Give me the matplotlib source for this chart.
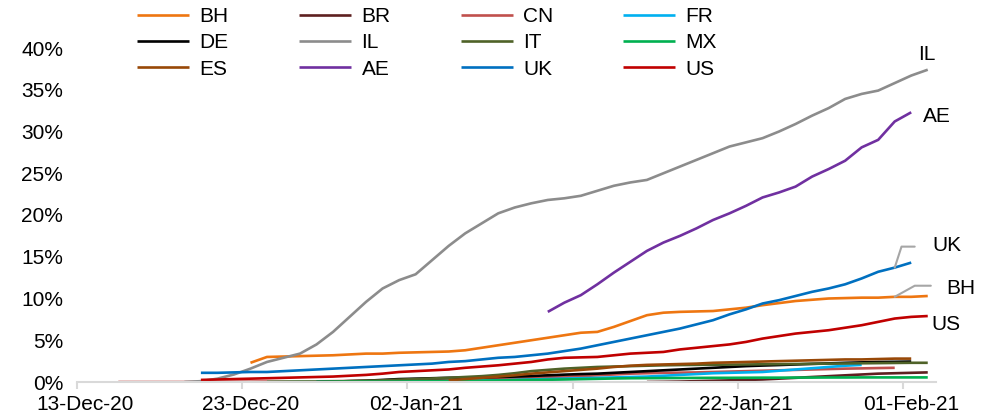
import numpy as np
import pandas as pd
import matplotlib.pyplot as plt
import matplotlib.dates as mdates

plt.rcParams['font.family'] = ['Liberation Sans', 'DejaVu Sans']

# vaccination share of population, daily, from first reported day
bh_start, bh = '2020-12-23', [2.3, 3.0, 3.05, 3.1, 3.15, 3.2, 3.3, 3.4, 3.4, 3.5, 3.55, 3.6, 3.65, 3.8, 4.1,
                              4.4, 4.7, 5.0, 5.3, 5.6, 5.9, 6.0, 6.6, 7.3, 8.0, 8.3, 8.4, 8.45, 8.5, 8.7,
                              8.9, 9.2, 9.45, 9.7, 9.85, 10.0, 10.05, 10.1, 10.1, 10.2, 10.2, 10.3]
br_start, br = '2021-01-16', [0.0, 0.02, 0.05, 0.1, 0.15, 0.2, 0.25, 0.3, 0.4, 0.5, 0.6, 0.7, 0.8, 0.9,
                              1.0, 1.05, 1.1, 1.15]
cn_start, cn = '2020-12-15', [0.0, 0.0, 0.0, 0.0, 0.0, 0.01, 0.02, 0.03, 0.04, 0.05, 0.06, 0.07, 0.08, 0.1,
                              0.12, 0.14, 0.16, 0.18, 0.2, 0.23, 0.27, 0.3, 0.35, 0.4, 0.45, 0.5, 0.55, 0.62,
                              0.7, 0.8, 0.9, 1.0, 1.05, 1.1, 1.12, 1.15, 1.2, 1.25, 1.3, 1.35, 1.4, 1.45,
                              1.5, 1.55, 1.6, 1.63, 1.67, 1.7]
fr_start, fr = '2020-12-27', [0.0, 0.0, 0.01, 0.01, 0.02, 0.03, 0.05, 0.07, 0.1, 0.13, 0.17, 0.2, 0.25, 0.3,
                              0.35, 0.4, 0.45, 0.5, 0.55, 0.6, 0.65, 0.75, 0.85, 0.95, 1.05, 1.1, 1.15, 1.2,
                              1.35, 1.5, 1.65, 1.8, 1.95, 2.05]
de_start, de = '2020-12-27', [0.0, 0.05, 0.1, 0.15, 0.25, 0.35, 0.4, 0.45, 0.5, 0.53, 0.56, 0.6, 0.65, 0.72,
                              0.8, 0.88, 0.95, 1.0, 1.1, 1.2, 1.3, 1.4, 1.5, 1.6, 1.7, 1.8, 1.9, 1.97, 2.03,
                              2.1, 2.17, 2.23, 2.3, 2.35, 2.4, 2.42, 2.45]
il_start, il = '2020-12-19', [0.0, 0.1, 0.4, 0.9, 1.6, 2.4, 2.9, 3.4, 4.5, 6.0, 7.8, 9.6, 11.2, 12.2, 12.9,
                              14.6, 16.3, 17.8, 19.0, 20.2, 20.9, 21.4, 21.8, 22.0, 22.3, 22.9, 23.5, 23.9,
                              24.2, 25.0, 25.8, 26.6, 27.4, 28.2, 28.7, 29.2, 30.0, 30.9, 31.9, 32.8, 33.9,
                              34.5, 34.9, 35.8, 36.7, 37.4]
it_start, it = '2020-12-27', [0.0, 0.05, 0.1, 0.15, 0.2, 0.28, 0.35, 0.42, 0.5, 0.6, 0.7, 0.85, 1.05, 1.3,
                              1.45, 1.6, 1.7, 1.8, 1.85, 1.9, 1.95, 2.0, 2.03, 2.05, 2.07, 2.08, 2.1, 2.12,
                              2.14, 2.16, 2.18, 2.2, 2.22, 2.24, 2.26, 2.28, 2.3, 2.3]
mx_start, mx = '2020-12-24', [0.0, 0.01, 0.02, 0.02, 0.03, 0.03, 0.04, 0.04, 0.05, 0.07, 0.09, 0.11, 0.13,
                              0.15, 0.18, 0.21, 0.24, 0.27, 0.3, 0.34, 0.38, 0.42, 0.45, 0.46, 0.47, 0.48,
                              0.49, 0.5, 0.5, 0.51, 0.52, 0.52, 0.53, 0.53, 0.54, 0.54, 0.55, 0.55, 0.55,
                              0.55, 0.55]
es_start, es = '2021-01-04', [0.2, 0.35, 0.5, 0.65, 0.8, 1.0, 1.15, 1.3, 1.45, 1.6, 1.8, 1.95, 2.05, 2.1,
                              2.15, 2.2, 2.3, 2.35, 2.4, 2.45, 2.5, 2.55, 2.6, 2.65, 2.7, 2.7, 2.75, 2.8, 2.8]
ae_start, ae = '2021-01-10', [8.4, 9.5, 10.4, 11.7, 13.1, 14.4, 15.7, 16.7, 17.5, 18.4, 19.4, 20.2, 21.1,
                              22.1, 22.7, 23.4, 24.6, 25.5, 26.5, 28.1, 29.0, 31.2, 32.3]
uk_start, uk = '2020-12-20', [1.1, 1.1, 1.15, 1.2, 1.2, 1.3, 1.4, 1.5, 1.6, 1.7, 1.8, 1.9, 2.0, 2.1, 2.2,
                              2.4, 2.5, 2.7, 2.9, 3.0, 3.2, 3.4, 3.7, 4.0, 4.4, 4.8, 5.2, 5.6, 6.0, 6.4,
                              6.9, 7.4, 8.1, 8.7, 9.4, 9.8, 10.3, 10.8, 11.2, 11.7, 12.4, 13.2, 13.7, 14.3]
us_start, us = '2020-12-20', [0.25, 0.3, 0.35, 0.4, 0.45, 0.5, 0.55, 0.6, 0.65, 0.75, 0.85, 1.0, 1.2, 1.3,
                              1.4, 1.5, 1.7, 1.85, 2.0, 2.2, 2.4, 2.7, 2.9, 2.95, 3.0, 3.2, 3.4, 3.5, 3.6,
                              3.9, 4.1, 4.3, 4.5, 4.8, 5.2, 5.5, 5.8, 6.0, 6.2, 6.5, 6.8, 7.2, 7.6, 7.8, 7.9]

series = [
    ('BH', bh_start, bh, '#EE7611'),
    ('BR', br_start, br, '#5E2020'),
    ('CN', cn_start, cn, '#C0504D'),
    ('FR', fr_start, fr, '#00B0F0'),
    ('DE', de_start, de, '#000000'),
    ('IL', il_start, il, '#8C8C8C'),
    ('IT', it_start, it, '#4F6228'),
    ('MX', mx_start, mx, '#00B050'),
    ('ES', es_start, es, '#984807'),
    ('AE', ae_start, ae, '#7030A0'),
    ('UK', uk_start, uk, '#0070C0'),
    ('US', us_start, us, '#C00000'),
]

fig = plt.figure(figsize=(9.91, 4.17), dpi=100)
ax = fig.add_axes([77 / 991, 35 / 417, 859 / 991, 334 / 417])

lines = {}
xs = {}
half = pd.Timedelta(hours=12)
for name, start, vals, col in series:
    # points sit in the middle of each day slot
    x = pd.date_range(start, periods=len(vals), freq='D') + half
    ln, = ax.plot(x, vals, color=col, lw=1.9, solid_capstyle='butt')
    lines[name] = ln
    xs[name] = (x, vals)

ax.set_xlim(pd.Timestamp('2020-12-13'), pd.Timestamp('2021-02-03'))
ax.set_ylim(0, 40)
ax.set_yticks(np.arange(0, 41, 5))
ax.yaxis.set_major_formatter(plt.FuncFormatter(lambda v, p: f'{v:.0f}%'))
ticks = pd.date_range('2020-12-13', '2021-02-01', freq='10D')
# labels centred on the day slot, tick marks at the slot edge
ax.set_xticks(ticks + half)
ax.set_xticklabels([t.strftime('%d-%b-%y') for t in ticks])
ax.set_xticks(ticks, minor=True)

for s in ['top', 'right', 'left']:
    ax.spines[s].set_visible(False)
ax.spines['bottom'].set_color('#D9D9D9')
ax.spines['bottom'].set_linewidth(1.5)
ax.tick_params(axis='y', length=0, pad=10, labelsize=15)
ax.tick_params(axis='x', which='major', length=0, pad=9, labelsize=15)
ax.tick_params(axis='x', which='minor', length=5, width=1.5, color='#D9D9D9')

fs = 15
# end labels
x, v = xs['IL']
ax.annotate('IL', (x[-1], v[-1]), xytext=(-0.7, 10.8), textcoords='offset points',
            ha='center', va='center', fontsize=fs, annotation_clip=False)
x, v = xs['AE']
ax.annotate('AE', (x[-1], v[-1]), xytext=(18.7, -2.9), textcoords='offset points',
            ha='center', va='center', fontsize=fs, annotation_clip=False)
x, v = xs['US']
ax.annotate('US', (x[-1], v[-1]), xytext=(13, -5.8), textcoords='offset points',
            ha='center', va='center', fontsize=fs, annotation_clip=False)

# labels with leader lines, anchored on 31-Jan
x, v = xs['UK']
ax.annotate('', (x[-2], v[-2]), xytext=(14.4, 15.1), textcoords='offset points',
            arrowprops=dict(arrowstyle='-', color='#A6A6A6', lw=1.5, shrinkA=0, shrinkB=0,
                            connectionstyle='angle,angleA=0,angleB=72,rad=0'),
            annotation_clip=False)
ax.annotate('UK', (x[-2], v[-2]), xytext=(37.4, 15.8), textcoords='offset points',
            ha='center', va='center', fontsize=fs, annotation_clip=False)
x, v = xs['BH']
ax.annotate('', (x[-3], v[-3]), xytext=(26, 8), textcoords='offset points',
            arrowprops=dict(arrowstyle='-', color='#A6A6A6', lw=1.5, shrinkA=0, shrinkB=0,
                            connectionstyle='angle,angleA=0,angleB=29,rad=0'),
            annotation_clip=False)
ax.annotate('BH', (x[-3], v[-3]), xytext=(47.5, 5.8), textcoords='offset points',
            ha='center', va='center', fontsize=fs, annotation_clip=False)

# legend: four fixed-width columns, filled row by row
legend_cols = [['BH', 'DE', 'ES'], ['BR', 'IL', 'AE'], ['CN', 'IT', 'UK'], ['FR', 'MX', 'US']]
for i, names in enumerate(legend_cols):
    fig.legend([lines[k] for k in names], names, loc='upper left',
               bbox_to_anchor=((137 + 162 * i) / 991, 1 - 7 / 417), frameon=False, fontsize=fs,
               handlelength=2.5, handletextpad=0.5, labelspacing=0.35,
               borderpad=0, borderaxespad=0)

fig.savefig('out.png', dpi=100)
